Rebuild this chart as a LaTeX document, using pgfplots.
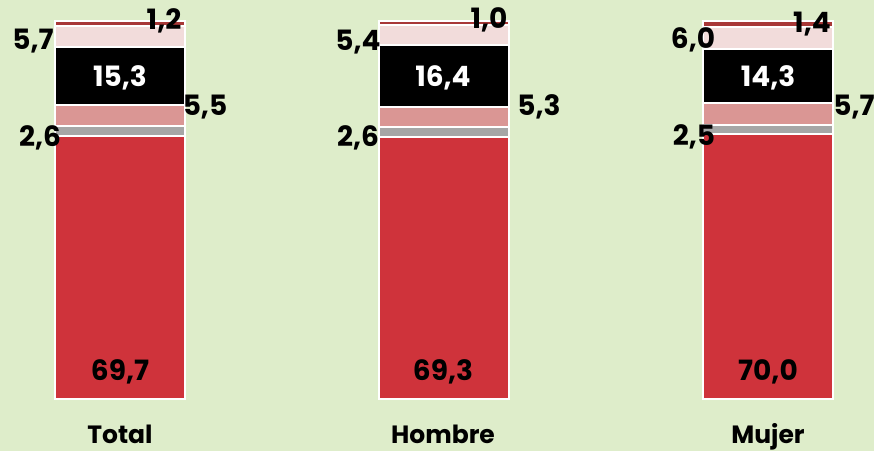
\documentclass[border=0pt]{standalone}
\usepackage{pgfplots}
\pgfplotsset{compat=1.18}
\usepackage{fontspec}
\setmainfont{Poppins}
\definecolor{bg}{RGB}{222,237,202}
\definecolor{cred}{RGB}{207,51,59}
\definecolor{cgray}{RGB}{166,166,166}
\definecolor{cpink}{RGB}{218,150,148}
\definecolor{clpink}{RGB}{242,220,219}
\definecolor{cdred}{RGB}{168,55,55}
\begin{document}
\begin{tikzpicture}
\fill[bg] (0,0) rectangle (437pt,225.5pt);
\begin{axis}[at={(0,0)}, anchor=south west, scale only axis,
  width=437pt, height=225.5pt,
  xmin=-0.3704, xmax=2.327, ymin=-13.76, ymax=105.56,
  hide axis, ybar stacked, bar width=0.401,
  every axis plot/.append style={draw=white, line width=1pt}]
\addplot[fill=cred] coordinates {(0,69.7) (1,69.3) (2,70.0)};
\addplot[fill=cgray] coordinates {(0,2.6) (1,2.6) (2,2.5)};
\addplot[fill=cpink] coordinates {(0,5.5) (1,5.3) (2,5.7)};
\addplot[fill=black] coordinates {(0,15.3) (1,16.4) (2,14.3)};
\addplot[fill=clpink] coordinates {(0,5.7) (1,5.4) (2,6.0)};
\addplot[fill=cdred] coordinates {(0,1.2) (1,1.0) (2,1.4)};
\end{axis}
\begin{axis}[at={(0,0)}, anchor=south west, scale only axis,
  width=437pt, height=225.5pt,
  xmin=0, xmax=874, ymin=0, ymax=451, y dir=reverse, hide axis]
\tikzset{lab/.style={font=\fontsize{14}{16}\selectfont\bfseries, text=black, inner sep=0pt}}
% Total
\node[lab] at (axis cs:120,372) {69,7};
\node[lab] at (axis cs:40,138) {2,6};
\node[lab] at (axis cs:205,107) {5,5};
\node[lab,text=white] at (axis cs:120,78) {15,3};
\node[lab] at (axis cs:33,41) {5,7};
\node[lab] at (axis cs:164,21) {1,2};
% Hombre
\node[lab] at (axis cs:443,372) {69,3};
\node[lab] at (axis cs:358,138) {2,6};
\node[lab] at (axis cs:539,107) {5,3};
\node[lab,text=white] at (axis cs:443,78) {16,4};
\node[lab] at (axis cs:358,42) {5,4};
\node[lab] at (axis cs:489,20) {1,0};
% Mujer
\node[lab] at (axis cs:768,372) {70,0};
\node[lab] at (axis cs:694,137) {2,5};
\node[lab] at (axis cs:854,107) {5,7};
\node[lab,text=white] at (axis cs:768,78) {14,3};
\node[lab] at (axis cs:693,40) {6,0};
\node[lab] at (axis cs:812,24) {1,4};
% categories
\tikzset{cat/.style={font=\fontsize{12.5}{15}\selectfont\bfseries, text=black, inner sep=0pt, anchor=base}}
\node[cat] at (axis cs:120,443) {Total};
\node[cat] at (axis cs:443,443) {Hombre};
\node[cat] at (axis cs:768,443) {Mujer};
\end{axis}
\end{tikzpicture}
\end{document}
